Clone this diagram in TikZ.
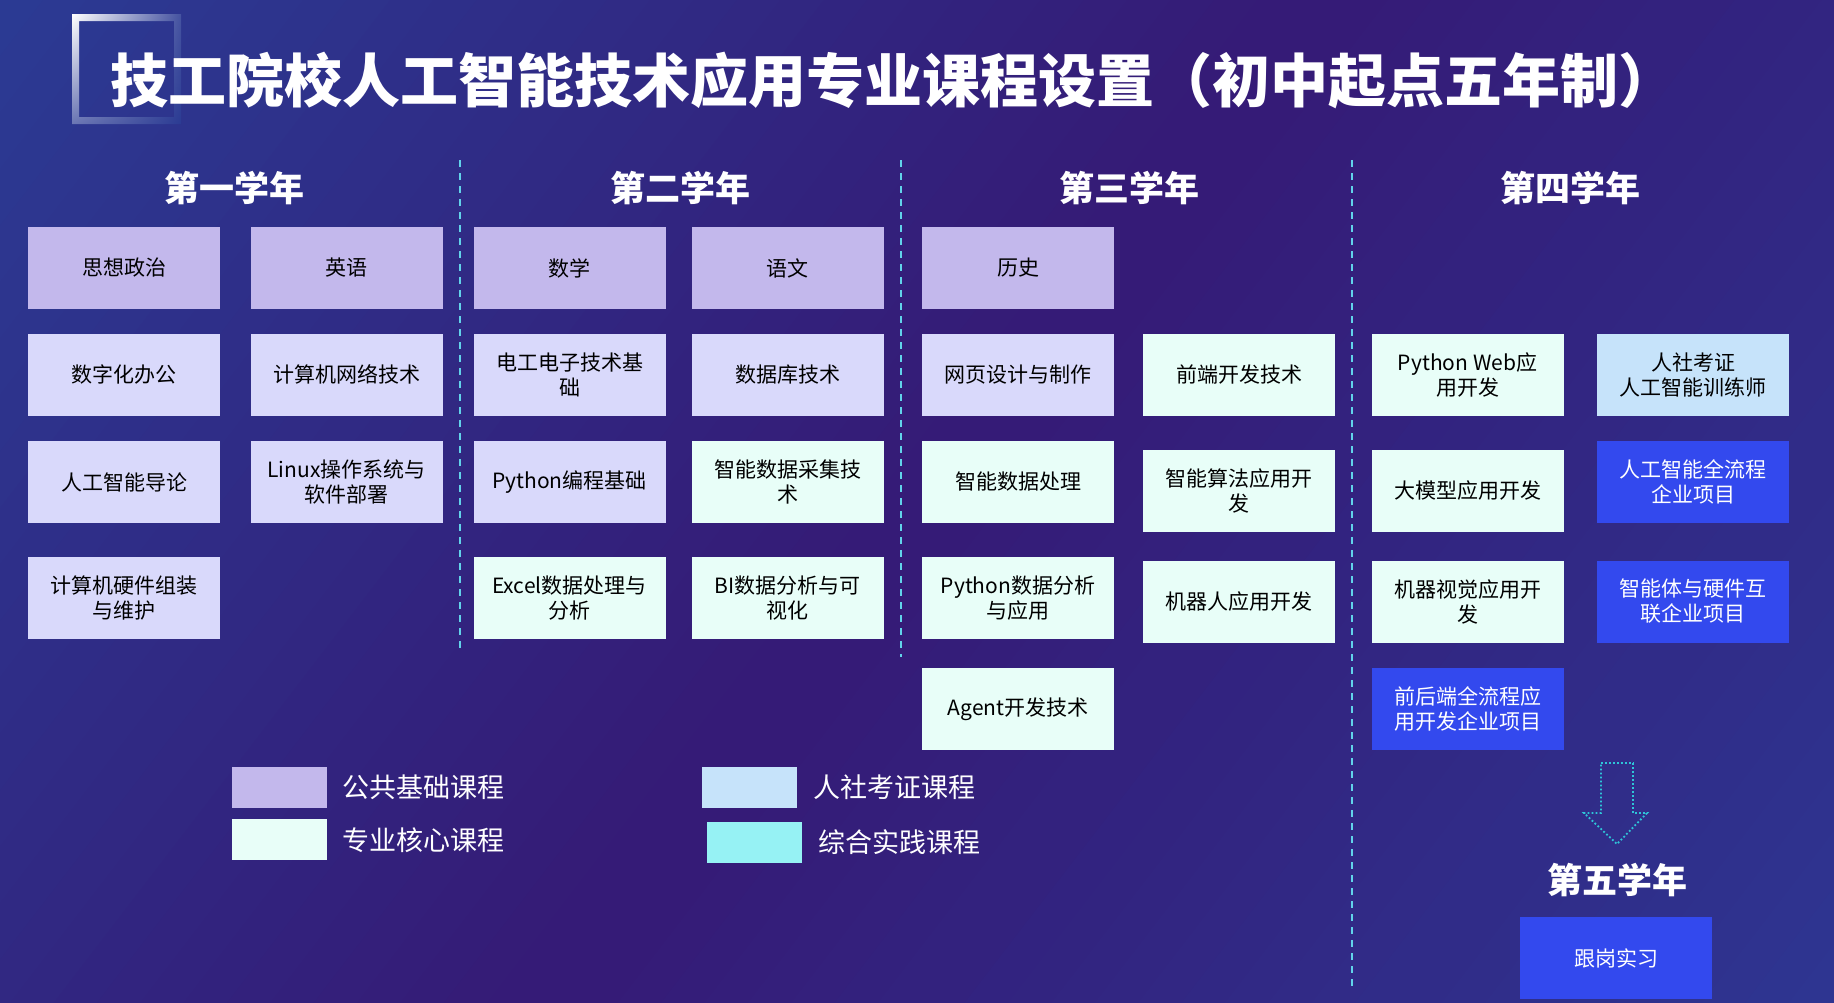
\documentclass[tikz,border=0pt]{standalone}
\usepackage{fontspec}
\usetikzlibrary{shadings}
\newfontfamily\cjk{Noto Sans CJK SC}
\definecolor{bgL}{RGB}{43,59,147}
\definecolor{bgM}{RGB}{53,26,118}
\definecolor{bgR}{RGB}{46,53,145}
\definecolor{pub}{HTML}{C3B8EC}
\definecolor{coreA}{HTML}{D9D9FB}
\definecolor{coreB}{HTML}{E8FEF8}
\definecolor{cert}{HTML}{C6E3FA}
\definecolor{proj}{HTML}{3349EE}
\definecolor{prac}{HTML}{96F2F4}
\definecolor{dashc}{HTML}{62D3EA}
\definecolor{arrc}{HTML}{2EC4D8}
\tikzset{
 crs/.style={minimum width=192pt, minimum height=82pt, inner sep=0pt, align=center, font=\cjk\fontsize{21}{25}\selectfont, text=black},
 pubc/.style={crs, fill=pub},
 corA/.style={crs, fill=coreA},
 corB/.style={crs, fill=coreB},
 certc/.style={crs, fill=cert},
 projc/.style={crs, fill=proj, text=white},
 yr/.style={font=\cjk\bfseries\fontsize{35}{40}\selectfont, text=white, inner sep=0pt},
 sepline/.style={draw=dashc, line width=1.8pt, dash pattern=on 7pt off 6pt},
 swatch/.style={minimum width=95pt, minimum height=41pt, inner sep=0pt},
 lg/.style={font=\cjk\fontsize{27}{30}\selectfont, text=white, anchor=west, inner sep=0pt},
}
\begin{document}
\begin{tikzpicture}[x=1pt,y=-1pt]
\useasboundingbox (0,0) rectangle (1834,1002);
% background: diagonal gradient blue - purple - blue
\begin{scope}
\clip (0,0) rectangle (1834,1002);
\fill[bgL] (0,0) rectangle (1834,1002);
\foreach \i in {0,...,59}{
  \pgfmathsetmacro\ta{\i*34.4}
  \pgfmathsetmacro\tb{\i*34.4+36}
  \pgfmathsetmacro\f{(\i+0.5)/60}
  \pgfmathsetmacro\pc{\f<0.5 ? 200*\f : 200*(1-\f)}
  \ifnum\i<30
    \colorlet{stripc}{bgM!\pc!bgL}
  \else
    \colorlet{stripc}{bgM!\pc!bgR}
  \fi
  \fill[stripc] ({\ta*0.793+1300*0.609},{\ta*0.609-1300*0.793}) -- ({\tb*0.793+1300*0.609},{\tb*0.609-1300*0.793}) -- ({\tb*0.793-1000*0.609},{\tb*0.609+1000*0.793}) -- ({\ta*0.793-1000*0.609},{\ta*0.609+1000*0.793}) -- cycle;
}
\end{scope}
% title frame
\shade[even odd rule, upper left=white, upper right=bgL!88!white, lower left=bgL!70!white, lower right=bgL] (72,14) rectangle (181,124) (79,21) rectangle (174,117);
% title
\node[font=\cjk\bfseries\fontsize{58}{64}\selectfont, text=white, anchor=west, inner sep=0pt] (title) at (110,81) {技工院校人工智能技术应用专业课程设置（初中起点五年制）};
% year labels
\node[yr] (y1) at (234,188) {第一学年};
\node[yr] (y2) at (680,188) {第二学年};
\node[yr] (y3) at (1129,188) {第三学年};
\node[yr] (y4) at (1570,188) {第四学年};
\node[yr] (y5) at (1617,880) {第五学年};
% separators
\coordinate (s1t) at (460,160); \coordinate (s1b) at (460,651);
\coordinate (s2t) at (901,160); \coordinate (s2b) at (901,657);
\coordinate (s3t) at (1352,160); \coordinate (s3b) at (1352,986);
\draw[sepline] (s1t) -- (s1b);
\draw[sepline] (s2t) -- (s2b);
\draw[sepline] (s3t) -- (s3b);
% row 1
\node[pubc] (b11) at (124,268) {思想政治};
\node[pubc] (b12) at (346.5,268) {英语};
\node[pubc] (b13) at (569.5,268) {数学};
\node[pubc] (b14) at (787.5,268) {语文};
\node[pubc] (b15) at (1018,268) {历史};
% row 2
\node[corA] (b21) at (124,374.5) {数字化办公};
\node[corA] (b22) at (346.5,374.5) {计算机网络技术};
\node[corA] (b23) at (569.5,374.5) {电工电子技术基\\础};
\node[corA] (b24) at (787.5,374.5) {数据库技术};
\node[corA] (b25) at (1018,374.5) {网页设计与制作};
\node[corB] (b26) at (1239,374.5) {前端开发技术};
\node[corB] (b27) at (1467.5,374.5) {Python Web应\\用开发};
\node[certc] (b28) at (1693,374.5) {人社考证\\人工智能训练师};
% row 3
\node[corA] (b31) at (124,482) {人工智能导论};
\node[corA] (b32) at (346.5,482) {Linux操作系统与\\软件部署};
\node[corA] (b33) at (569.5,482) {Python编程基础};
\node[corB] (b34) at (787.5,482) {智能数据采集技\\术};
\node[corB] (b35) at (1018,482) {智能数据处理};
\node[corB] (b36) at (1239,490.5) {智能算法应用开\\发};
\node[corB] (b37) at (1467.5,490.5) {大模型应用开发};
\node[projc] (b38) at (1693,482) {人工智能全流程\\企业项目};
% row 4
\node[corA] (b41) at (124,598) {计算机硬件组装\\与维护};
\node[corB] (b43) at (569.5,598) {Excel数据处理与\\分析};
\node[corB] (b44) at (787.5,598) {BI数据分析与可\\视化};
\node[corB] (b45) at (1018,598) {Python数据分析\\与应用};
\node[corB] (b46) at (1239,601.5) {机器人应用开发};
\node[corB] (b47) at (1467.5,601.5) {机器视觉应用开\\发};
\node[projc] (b48) at (1693,601.5) {智能体与硬件互\\联企业项目};
% row 5
\node[corB] (b55) at (1018,709) {Agent开发技术};
\node[projc] (b57) at (1467.5,709) {前后端全流程应\\用开发企业项目};
% year 5
\node[projc] (b6) at (1616,958) {跟岗实习};
% dotted arrow
\draw[arrc, line width=1.8pt, dash pattern=on 1.8pt off 2.2pt] (1601,763) -- (1633,763) -- (1633,813) -- (1647,813) -- (1617,844) -- (1584,813) -- (1601,813) -- cycle;
% legend
\node[swatch, fill=pub] (l1) at (279.5,787) {};
\node[swatch, fill=coreB] (l2) at (279.5,839.5) {};
\node[swatch, fill=cert] (l3) at (749.5,787) {};
\node[swatch, fill=prac] (l4) at (754.5,842.5) {};
\node[lg] (t1) at (342,787) {公共基础课程};
\node[lg] (t2) at (342,840) {专业核心课程};
\node[lg] (t3) at (813,787) {人社考证课程};
\node[lg] (t4) at (818,842) {综合实践课程};
\end{tikzpicture}
\end{document}
